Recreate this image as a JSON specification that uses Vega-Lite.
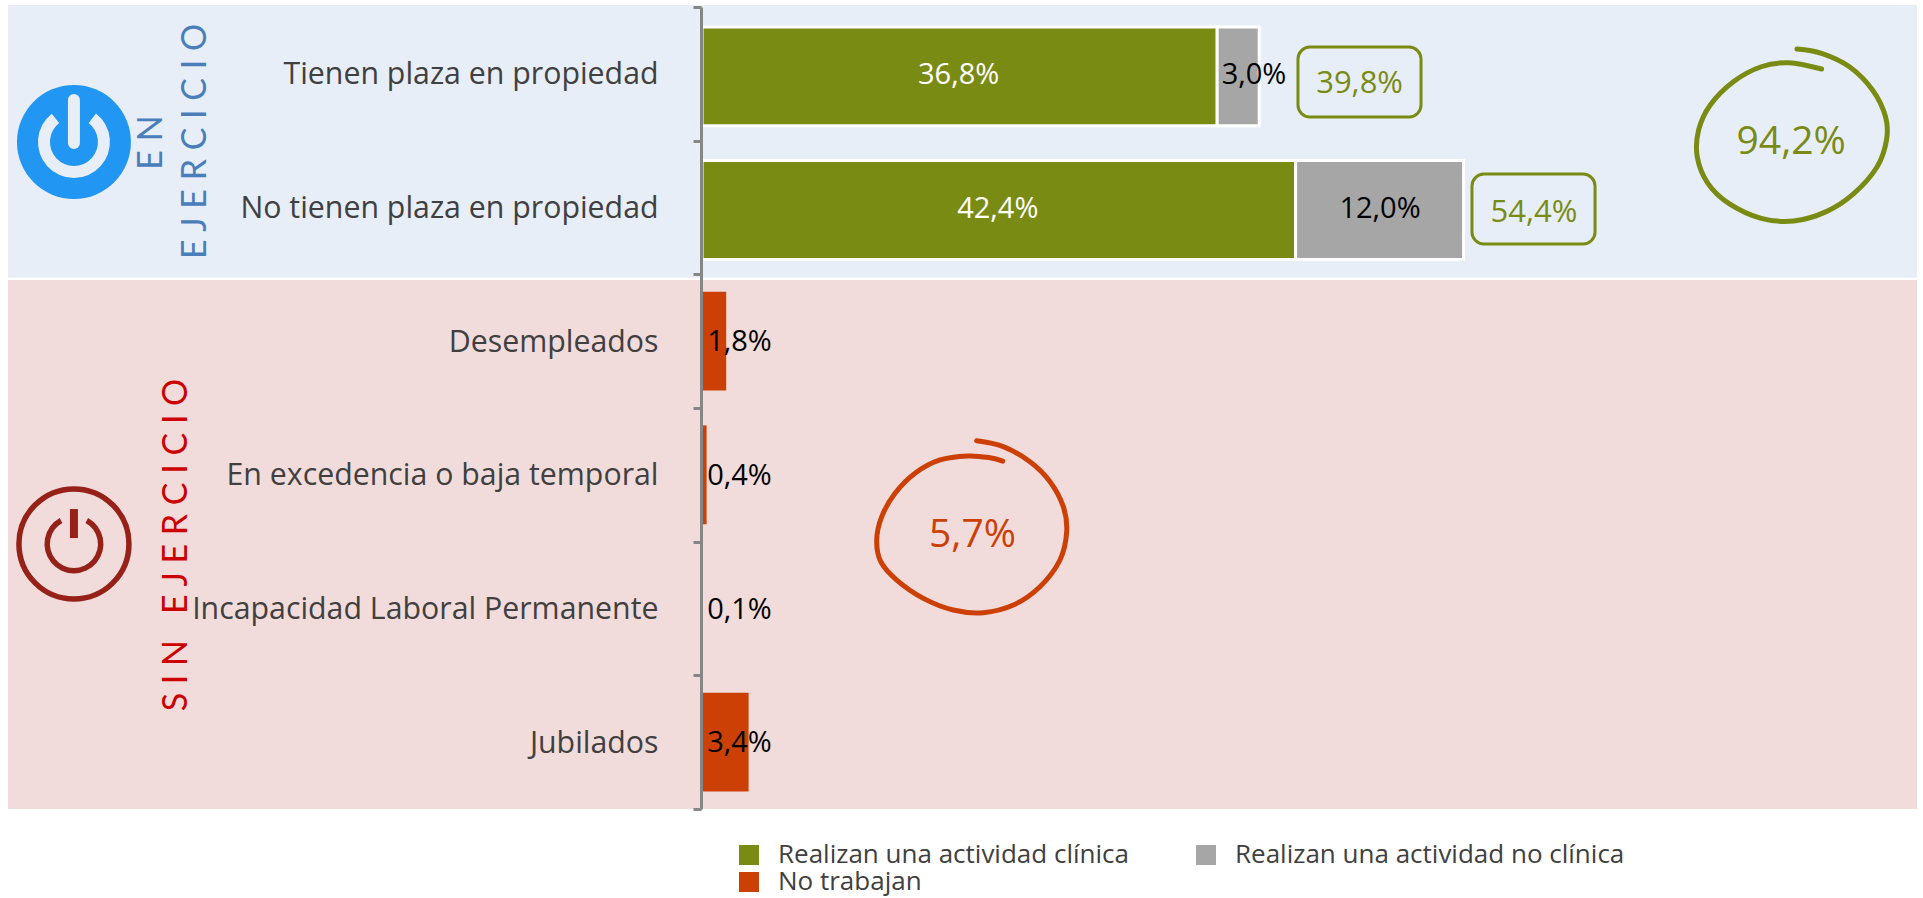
{
"$schema":"https://vega.github.io/schema/vega-lite/v6.json",
"autosize":{"type":"none"},
"width":1216,"height":802,
"padding":{"left":701,"top":7,"right":6,"bottom":89},
"background":"white",
"config":{"view":{"stroke":null},"text":{"font":"Open Sans"}},
"datasets":{
"barras":[
{"categoria":"Tienen plaza en propiedad","grupo":"En ejercicio","serie":"Realizan una actividad clínica","valor":36.8,"orden":1},
{"categoria":"Tienen plaza en propiedad","grupo":"En ejercicio","serie":"Realizan una actividad no clínica","valor":3.0,"orden":2},
{"categoria":"No tienen plaza en propiedad","grupo":"En ejercicio","serie":"Realizan una actividad clínica","valor":42.4,"orden":1},
{"categoria":"No tienen plaza en propiedad","grupo":"En ejercicio","serie":"Realizan una actividad no clínica","valor":12.0,"orden":2},
{"categoria":"Desempleados","grupo":"Sin ejercicio","serie":"No trabajan","valor":1.8,"orden":3},
{"categoria":"En excedencia o baja temporal","grupo":"Sin ejercicio","serie":"No trabajan","valor":0.4,"orden":3},
{"categoria":"Incapacidad Laboral Permanente","grupo":"Sin ejercicio","serie":"No trabajan","valor":0.1,"orden":3},
{"categoria":"Jubilados","grupo":"Sin ejercicio","serie":"No trabajan","valor":3.4,"orden":3}
],
"etiquetas":[
{"categoria":"Tienen plaza en propiedad","texto":"36,8%","valor":36.8,"pct":18.4},
{"categoria":"Tienen plaza en propiedad","texto":"3,0%","valor":3.0,"pct":39.5},
{"categoria":"No tienen plaza en propiedad","texto":"42,4%","valor":42.4,"pct":21.2},
{"categoria":"No tienen plaza en propiedad","texto":"12,0%","valor":12.0,"pct":48.5},
{"categoria":"Desempleados","texto":"1,8%","valor":1.8,"pct":2.75},
{"categoria":"En excedencia o baja temporal","texto":"0,4%","valor":0.4,"pct":2.75},
{"categoria":"Incapacidad Laboral Permanente","texto":"0,1%","valor":0.1,"pct":2.75},
{"categoria":"Jubilados","texto":"3,4%","valor":3.4,"pct":2.75}
],
"paneles":[
{"grupo":"En ejercicio","x0":-49.5,"x1":86.857,"f0":-0.015,"f1":2.025},
{"grupo":"Sin ejercicio","x0":-49.5,"x1":86.857,"f0":2.042,"f1":6.0}
],
"cajas":[
{"texto":"39,8%","x0":42.64,"x1":51.43,"f0":0.30,"f1":0.823,"pct":47.04,"fila":0.578},
{"texto":"54,4%","x0":55.07,"x1":63.86,"f0":1.25,"f1":1.773,"pct":59.5,"fila":1.538}
],
"resumen":[
{"texto":"94,2%","grupo":"En ejercicio","pct":77.87,"fila":1.008},
{"texto":"5,7%","grupo":"Sin ejercicio","pct":19.39,"fila":3.948}
],
"rotulos":[
{"texto":"E N","grupo":"En ejercicio","pct":-39.2,"fila":1.014},
{"texto":"E J E R C I C I O","grupo":"En ejercicio","pct":-36.1,"fila":1.006},
{"texto":"S I N \u00a0 E J E R C I C I O","grupo":"Sin ejercicio","pct":-37.46,"fila":4.025}
],
"iconos":[
{"grupo":"En ejercicio","pct":-44.79,"fila":1.01,"f0":0.696,"f1":1.017},
{"grupo":"Sin ejercicio","pct":-44.79,"fila":4.017,"f0":3.756,"f1":3.973}
],
"trazos":[
{"grupo":"En ejercicio","n":1,"pct":78.28,"fila":0.314},{"grupo":"En ejercicio","n":2,"pct":80.04,"fila":0.347},{"grupo":"En ejercicio","n":3,"pct":82.03,"fila":0.447},{"grupo":"En ejercicio","n":4,"pct":83.68,"fila":0.621},{"grupo":"En ejercicio","n":5,"pct":84.61,"fila":0.821},{"grupo":"En ejercicio","n":6,"pct":84.68,"fila":0.995},{"grupo":"En ejercicio","n":7,"pct":84.01,"fila":1.195},{"grupo":"En ejercicio","n":8,"pct":82.36,"fila":1.394},{"grupo":"En ejercicio","n":9,"pct":80.37,"fila":1.531},{"grupo":"En ejercicio","n":10,"pct":78.05,"fila":1.601},{"grupo":"En ejercicio","n":11,"pct":75.73,"fila":1.581},{"grupo":"En ejercicio","n":12,"pct":73.41,"fila":1.469},{"grupo":"En ejercicio","n":13,"pct":71.92,"fila":1.319},{"grupo":"En ejercicio","n":14,"pct":71.16,"fila":1.12},{"grupo":"En ejercicio","n":15,"pct":71.26,"fila":0.92},{"grupo":"En ejercicio","n":16,"pct":72.09,"fila":0.733},{"grupo":"En ejercicio","n":17,"pct":73.74,"fila":0.559},{"grupo":"En ejercicio","n":18,"pct":75.73,"fila":0.447},{"grupo":"En ejercicio","n":19,"pct":77.71,"fila":0.417},{"grupo":"En ejercicio","n":20,"pct":80.04,"fila":0.464},
{"grupo":"Sin ejercicio","n":1,"pct":19.69,"fila":3.245},{"grupo":"Sin ejercicio","n":2,"pct":21.59,"fila":3.289},{"grupo":"Sin ejercicio","n":3,"pct":23.5,"fila":3.402},{"grupo":"Sin ejercicio","n":4,"pct":24.93,"fila":3.551},{"grupo":"Sin ejercicio","n":5,"pct":25.88,"fila":3.738},{"grupo":"Sin ejercicio","n":6,"pct":26.12,"fila":3.925},{"grupo":"Sin ejercicio","n":7,"pct":25.64,"fila":4.137},{"grupo":"Sin ejercicio","n":8,"pct":24.21,"fila":4.337},{"grupo":"Sin ejercicio","n":9,"pct":22.31,"fila":4.474},{"grupo":"Sin ejercicio","n":10,"pct":20.16,"fila":4.531},{"grupo":"Sin ejercicio","n":11,"pct":18.02,"fila":4.511},{"grupo":"Sin ejercicio","n":12,"pct":15.88,"fila":4.424},{"grupo":"Sin ejercicio","n":13,"pct":13.98,"fila":4.287},{"grupo":"Sin ejercicio","n":14,"pct":12.84,"fila":4.15},{"grupo":"Sin ejercicio","n":15,"pct":12.55,"fila":3.987},{"grupo":"Sin ejercicio","n":16,"pct":12.91,"fila":3.813},{"grupo":"Sin ejercicio","n":17,"pct":13.86,"fila":3.638},{"grupo":"Sin ejercicio","n":18,"pct":15.29,"fila":3.488},{"grupo":"Sin ejercicio","n":19,"pct":17.07,"fila":3.389},{"grupo":"Sin ejercicio","n":20,"pct":19.05,"fila":3.359},{"grupo":"Sin ejercicio","n":21,"pct":20.64,"fila":3.372},{"grupo":"Sin ejercicio","n":22,"pct":21.55,"fila":3.397}
]
},
"resolve":{"scale":{"y":"independent"},"axis":{"y":"independent"}},
"layer":[
{
"data":{"name":"paneles"},
"mark":{"type":"rect","clip":false},
"encoding":{
"x":{"field":"x0","type":"quantitative","scale":{"domain":[0,86.857],"nice":false,"zero":false},"axis":null},
"x2":{"field":"x1"},
"y":{"field":"f0","type":"quantitative","scale":{"domain":[0,6],"nice":false,"zero":false,"reverse":true},"axis":null},
"y2":{"field":"f1"},
"fill":{"condition":{"test":"datum.grupo === 'En ejercicio'","value":"#E8EEF7"},"value":"#F2DCDB"}
}
},
{
"encoding":{
"y":{"field":"categoria","type":"nominal","sort":null,"title":null,
"scale":{"domain":["Tienen plaza en propiedad","No tienen plaza en propiedad","Desempleados","En excedencia o baja temporal","Incapacidad Laboral Permanente","Jubilados"],"paddingInner":0,"paddingOuter":0},
"axis":{"zindex":1,"tickBand":"extent","domainColor":"#868686","domainWidth":3,"tickColor":"#868686","tickWidth":3,"tickSize":8,"labelFont":"Open Sans","labelFontSize":30.3,"labelColor":"#404040","labelPadding":35,"labelOffset":1,"labelLimit":600,"grid":false,"title":null}}
},
"layer":[
{
"data":{"name":"barras"},
"transform":[{"filter":"datum.grupo === 'En ejercicio'"}],
"mark":{"type":"bar","height":{"band":0.74},"stroke":"white","strokeWidth":3,"yOffset":2.5,"xOffset":1},
"encoding":{
"x":{"field":"valor","type":"quantitative","stack":"zero","axis":null},
"order":{"field":"orden"},
"color":{"field":"serie","type":"nominal",
"scale":{"domain":["Realizan una actividad clínica","Realizan una actividad no clínica","No trabajan"],"range":["#7A8B14","#A6A6A6","#CC4006"]},
"legend":{"orient":"none","legendX":35,"legendY":835,"columns":2,"direction":"horizontal","title":null,"symbolType":"square","symbolSize":400,"symbolStrokeWidth":0,"labelFont":"Open Sans","labelFontSize":26,"labelColor":"#404040","labelOffset":16,"columnPadding":64,"rowPadding":1,"labelLimit":500,"padding":0,"gridAlign":"each"}}
}
},
{
"data":{"name":"barras"},
"transform":[{"filter":"datum.grupo === 'Sin ejercicio'"}],
"mark":{"type":"bar","height":{"band":0.74}},
"encoding":{
"x":{"field":"valor","type":"quantitative","stack":"zero","axis":null},
"order":{"field":"orden"},
"color":{"field":"serie","type":"nominal","legend":null}
}
},
{
"data":{"name":"etiquetas"},
"mark":{"type":"text","fontSize":29,"baseline":"middle","align":"center","dy":1},
"encoding":{
"x":{"field":"pct","type":"quantitative","axis":null},
"text":{"field":"texto"},
"color":{"condition":{"test":"datum.valor > 30","value":"white"},"value":"black"}
}
}
]
},
{
"encoding":{
"x":{"field":"pct","type":"quantitative","axis":null},
"y":{"field":"fila","type":"quantitative","scale":{"domain":[0,6],"nice":false,"zero":false,"reverse":true},"axis":null}
},
"layer":[
{"data":{"name":"cajas"},"mark":{"type":"rect","cornerRadius":12,"fill":"transparent","stroke":"#7A8B14","strokeWidth":3},
"encoding":{"x":{"field":"x0","type":"quantitative","axis":null},"x2":{"field":"x1"},"y":{"field":"f0","type":"quantitative","axis":null},"y2":{"field":"f1"}}},
{"data":{"name":"cajas"},"mark":{"type":"text","fontSize":31,"color":"#7A8B14","baseline":"middle"},"encoding":{"text":{"field":"texto"}}},
{"data":{"name":"resumen"},"mark":{"type":"text","fontSize":39,"baseline":"middle"},
"encoding":{"text":{"field":"texto"},"color":{"condition":{"test":"datum.grupo === 'En ejercicio'","value":"#7A8B14"},"value":"#CC4006"}}},
{"data":{"name":"trazos"},"transform":[{"filter":"datum.grupo === 'En ejercicio'"}],"mark":{"type":"line","interpolate":"cardinal","color":"#7A8B14","strokeWidth":5,"strokeCap":"round"},"encoding":{"order":{"field":"n"}}},
{"data":{"name":"trazos"},"transform":[{"filter":"datum.grupo === 'Sin ejercicio'"}],"mark":{"type":"line","interpolate":"cardinal","color":"#CC4006","strokeWidth":5,"strokeCap":"round"},"encoding":{"order":{"field":"n"}}},
{"data":{"name":"rotulos"},"mark":{"type":"text","font":"Lato","fontSize":34,"angle":270,"baseline":"middle","align":"center"},
"encoding":{"text":{"field":"texto"},"color":{"condition":{"test":"datum.grupo === 'En ejercicio'","value":"#4A7EBB"},"value":"#CC0000"}}},
{"data":{"name":"iconos"},"transform":[{"filter":"datum.grupo === 'En ejercicio'"}],"mark":{"type":"point","shape":"circle","filled":true,"size":12996,"color":"#2196F3","opacity":1}},
{"data":{"name":"iconos"},"transform":[{"filter":"datum.grupo === 'En ejercicio'"}],"mark":{"type":"arc","theta":0.66,"theta2":5.62,"radius":36,"radius2":24,"color":"#E8EEF7"}},
{"data":{"name":"iconos"},"transform":[{"filter":"datum.grupo === 'En ejercicio'"}],"mark":{"type":"rule","strokeWidth":12,"strokeCap":"round","color":"#E8EEF7"},"encoding":{"y":{"field":"f0","type":"quantitative","axis":null},"y2":{"field":"f1"}}},
{"data":{"name":"iconos"},"transform":[{"filter":"datum.grupo === 'Sin ejercicio'"}],"mark":{"type":"point","shape":"circle","filled":false,"size":12100,"stroke":"#962119","strokeWidth":5.5,"opacity":1}},
{"data":{"name":"iconos"},"transform":[{"filter":"datum.grupo === 'Sin ejercicio'"}],"mark":{"type":"arc","theta":0.5,"theta2":5.78,"radius":29.5,"radius2":24,"color":"#962119"}},
{"data":{"name":"iconos"},"transform":[{"filter":"datum.grupo === 'Sin ejercicio'"}],"mark":{"type":"rule","strokeWidth":8,"color":"#962119"},"encoding":{"y":{"field":"f0","type":"quantitative","axis":null},"y2":{"field":"f1"}}}
]
}
]
}
